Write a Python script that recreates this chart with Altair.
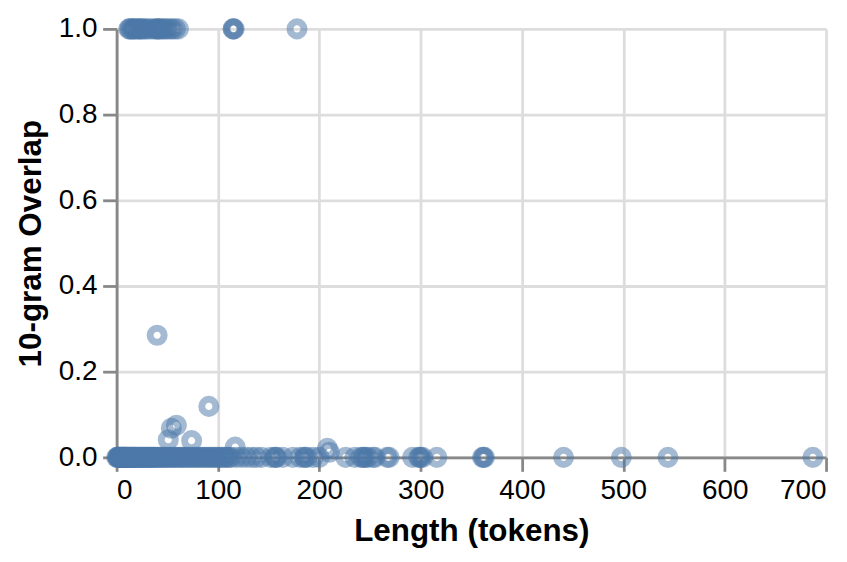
import altair as alt
import pandas as pd

# Points with full overlap (y = 1.0)
one_len = [12, 13, 14, 16, 17, 18, 20, 22, 23, 24, 26, 28, 30, 33, 36, 39, 40, 41, 42, 44,
           46, 48, 50, 53, 55, 58, 61, 115, 115, 116, 178]

# Points with partial overlap
mid_len = [40, 91, 59, 54, 51, 74, 117, 208, 210]
mid_val = [0.285, 0.119, 0.075, 0.068, 0.041, 0.039, 0.024, 0.021, 0.012]

# Points with zero overlap (y = 0.0)
zero_len = [0, 1, 1, 2, 2, 3, 3, 4, 4, 5, 5, 6, 6, 7, 7, 8, 8, 9, 9, 10, 10, 11, 12, 12, 13,
            14, 15, 15, 16, 17, 18, 18, 19, 20, 21, 22, 23, 24, 25, 26, 27, 28, 29, 30, 31,
            32, 33, 34, 35, 36, 37, 38, 40, 41, 42, 44, 45, 47, 48, 50, 52, 53, 55, 57, 58,
            60, 62, 64, 65, 67, 69, 71, 73, 75, 77, 79, 81, 83, 85, 87, 89, 91, 93, 95, 97,
            99, 101, 103, 105, 107, 109, 111, 113, 118, 123, 128, 133, 138, 143, 152, 156,
            157, 158, 164, 174, 181, 185, 186, 188, 194, 200, 226, 235, 241, 243, 244, 246,
            248, 253, 255, 267, 269, 292, 298, 299, 300, 302, 316, 361, 362, 363, 441, 498,
            544, 687]

lengths = one_len + mid_len + zero_len
overlaps = [1.0] * len(one_len) + mid_val + [0.0] * len(zero_len)

df = pd.DataFrame({"length": lengths, "overlap": overlaps})

S = 2.8

chart = (
    alt.Chart(df)
    .mark_point(size=200, strokeWidth=7, color="#4c78a8", opacity=0.5)
    .encode(
        x=alt.X(
            "length:Q",
            title="Length (tokens)",
            scale=alt.Scale(domain=[0, 700]),
            axis=alt.Axis(values=[0, 100, 200, 300, 400, 500, 600, 700]),
        ),
        y=alt.Y(
            "overlap:Q",
            title="10-gram Overlap",
            scale=alt.Scale(domain=[0, 1]),
            axis=alt.Axis(values=[0, 0.2, 0.4, 0.6, 0.8, 1.0], format=".1f"),
        ),
    )
    .properties(width=712, height=430,
                padding={"left": 7, "top": -2, "right": 5, "bottom": 5})
    .configure_axis(
        labelFontSize=10 * S,
        titleFontSize=31.5,
        gridWidth=1 * S,
        domainWidth=1 * S,
        tickWidth=1 * S,
        tickSize=5 * S,
        labelPadding=2 * S,
        titlePadding=4 * S,
    )
    .configure_view(strokeWidth=0)
)

chart.save("out.html", embed_options={"renderer": "svg", "actions": False})
